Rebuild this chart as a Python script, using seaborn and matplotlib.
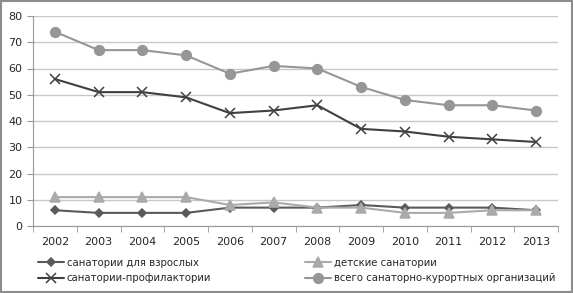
import matplotlib.pyplot as plt
import matplotlib.patches as mpatches
import pandas as pd
import seaborn as sns

# data
###############################################################################

years = ['2002', '2003', '2004', '2005', '2006', '2007',
         '2008', '2009', '2010', '2011', '2012', '2013']
adults = [6, 5, 5, 5, 7, 7, 7, 8, 7, 7, 7, 6]
children = [11, 11, 11, 11, 8, 9, 7, 7, 5, 5, 6, 6]
profilaktorii = [56, 51, 51, 49, 43, 44, 46, 37, 36, 34, 33, 32]
total = [74, 67, 67, 65, 58, 61, 60, 53, 48, 46, 46, 44]

names = ['санатории для взрослых', 'детские санатории',
         'санатории-профилактории', 'всего санаторно-курортных организаций']
series = [adults, children, profilaktorii, total]

df = pd.concat([pd.DataFrame({'year': years, 'value': v, 'series': n})
                for n, v in zip(names, series)], ignore_index=True)

# plot
###############################################################################

sns.set_style('white')
plt.rcParams['font.family'] = ['DejaVu Sans']

colors = ['#5a5a5a', '#aaaaaa', '#404040', '#969696']
markers = ['D', '^', 'x', 'o']
sizes = [4.5, 6.5, 6.5, 7]

fig = plt.figure(figsize=(5.73, 2.93), dpi=100)
ax = fig.add_axes([33 / 573, 1 - 226 / 293, 525 / 573, 210 / 293])

for n, c, m, s in zip(names, colors, markers, sizes):
    sns.lineplot(data=df[df['series'] == n], x='year', y='value', ax=ax,
                 color=c, marker=m, markersize=s, linewidth=1.5,
                 markeredgecolor=c, markeredgewidth=1.1, label=n, sort=False)

ax.set_xlim(-0.5, 11.5)
ax.set_ylim(0, 80)
ax.set_yticks(range(0, 81, 10))
ax.set_xlabel('')
ax.set_ylabel('')
ax.grid(axis='y', color='#c8c8c8', linewidth=1)
ax.set_axisbelow(True)
for side in ['top', 'right']:
    ax.spines[side].set_visible(False)
ax.spines['left'].set_color('#999999')
ax.spines['bottom'].set_color('#999999')
ax.set_xticks([i - 0.5 for i in range(13)], minor=True)
ax.tick_params(axis='x', which='major', length=0, labelsize=8, pad=8)
ax.tick_params(axis='x', which='minor', length=4, color='#999999', direction='out')
ax.tick_params(axis='y', length=4, color='#999999', labelsize=8, direction='out', left=True)
ax.tick_params(axis='x', bottom=True, which='minor')

handles, labels = ax.get_legend_handles_labels()
order = [0, 2, 1, 3]
ax.legend([handles[i] for i in order], [labels[i] for i in order],
          loc='upper left', bbox_to_anchor=(0.01, -0.15), ncol=2, frameon=False,
          fontsize=7.3, handlelength=2.5, handletextpad=0.3, columnspacing=9.3,
          labelspacing=0.55, borderaxespad=0, borderpad=0)

fig.patches.append(mpatches.Rectangle((0.002, 0.004), 0.996, 0.992,
                                      transform=fig.transFigure, fill=False,
                                      edgecolor='#8c8c8c', linewidth=1.5))

plt.savefig('out.png', dpi=100)
